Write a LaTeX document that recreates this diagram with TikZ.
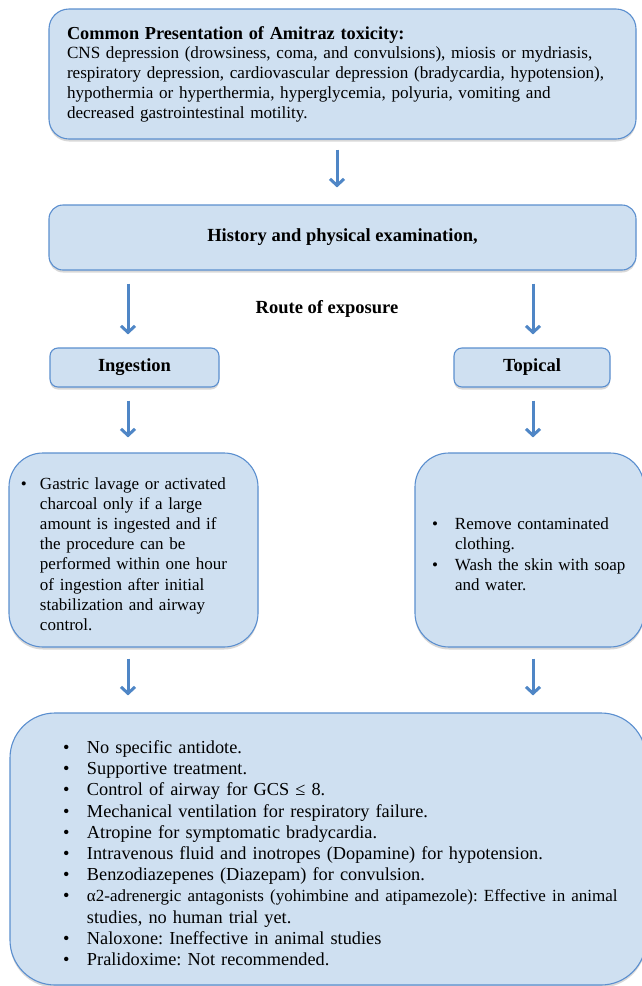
\documentclass[tikz,border=0pt]{standalone}
\usepackage{fontspec}
\setmainfont{Liberation Serif}
\usetikzlibrary{arrows.meta,shadows}
\definecolor{boxfill}{HTML}{CFE0F1}
\definecolor{boxline}{HTML}{5B8FCF}
\definecolor{flowblue}{HTML}{4F86C6}
\newcommand{\bitem}[2]{\par\hangindent=#1\hangafter=1\noindent\makebox[#1][l]{\textbullet}#2\par}
\frenchspacing
\begin{document}
\begin{tikzpicture}[x=1pt,y=-1pt,
	box/.style={draw=boxline,line width=1.1pt,fill=boxfill,rounded corners=#1,
		drop shadow={shadow xshift=0pt,shadow yshift=-2.5pt,opacity=0.3},
		inner xsep=0pt,inner ysep=0pt,align=left},
	box/.default=14pt,
	head/.style={font=\fontsize{18.5}{21}\selectfont\bfseries,align=center},
	flow/.style={draw=flowblue,line width=3pt,-{Straight Barb[length=6.5pt,width=14pt]}}]
		\useasboundingbox (0,0) rectangle (642,986);
		\clip (0,0) rectangle (642,986);
		\fill[white] (0,0) rectangle (642,986);
		\node[box=20pt,text width=587,minimum height=130,font=\fontsize{17.1}{19.8}\selectfont] (present) at (342.5,74) {\leftskip=18pt
			{\fontsize{18.3}{19.8}\selectfont\bfseries Common Presentation of Amitraz toxicity:\par}
			\noindent CNS depression (drowsiness, coma, and convulsions), miosis or mydriasis,\newline
			respiratory depression, cardiovascular depression (bradycardia, hypotension),\newline
			hypothermia or hyperthermia, hyperglycemia, polyuria, vomiting and\newline
			decreased gastrointestinal motility.\par};
		\node[box,head,minimum width=587,minimum height=65] (history) at (342.5,237.5) {History and physical examination,};
		\node[head] (route) at (327,309) {Route of exposure};
		\node[box=8pt,head,minimum width=169,minimum height=39] (ingest) at (134.5,367.5) {Ingestion};
		\node[box=8pt,head,minimum width=156,minimum height=39] (topical) at (532,367.5) {Topical};
		\node[box=34pt,text width=249,minimum height=194,font=\fontsize{17}{20.1}\selectfont] (gastric) at (133.5,550) {\leftskip=12pt
			\bitem{19pt}{Gastric lavage or activated\newline charcoal only if a large\newline amount is ingested and if\newline the procedure can be\newline performed within one hour\newline of ingestion after initial\newline stabilization and airway\newline control.}};
		\node[box=34pt,text width=229,minimum height=194,font=\fontsize{17}{20.2}\selectfont] (wash) at (529.5,550) {\leftskip=17pt
			\bitem{23pt}{Remove contaminated\newline clothing.}
			\bitem{23pt}{Wash the skin with soap\newline and water.}};
		\node[box=45pt,text width=636,minimum height=272,font=\fontsize{18.3}{21.2}\selectfont] (care) at (328,849) {\leftskip=53pt
			\bitem{24pt}{No specific antidote.}
			\bitem{24pt}{Supportive treatment.}
			\bitem{24pt}{Control of airway for GCS ≤ 8.}
			\bitem{24pt}{Mechanical ventilation for respiratory failure.}
			\bitem{24pt}{Atropine for symptomatic bradycardia.}
			\bitem{24pt}{Intravenous fluid and inotropes (Dopamine) for hypotension.}
			\bitem{24pt}{Benzodiazepenes (Diazepam) for convulsion.}
			\bitem{24pt}{{\fontsize{17}{21.2}\selectfont α2-adrenergic antagonists (yohimbine and atipamezole): Effective in animal}\newline studies, no human trial yet.}
			\bitem{24pt}{Naloxone: Ineffective in animal studies}
			\bitem{24pt}{Pralidoxime: Not recommended.}};
		\coordinate (leftlane) at (128,0);
		\coordinate (rightlane) at (533,0);
		\draw[flow,shorten <=10pt,shorten >=17pt] ([xshift=-5.5pt]present.south) -- ([xshift=-5.5pt]history.north);
		\draw[flow,shorten <=13pt,shorten >=13pt] (leftlane |- history.south) -- (leftlane |- ingest.north);
		\draw[flow,shorten <=13pt,shorten >=13pt] (rightlane |- history.south) -- (rightlane |- topical.north);
		\draw[flow,shorten <=13pt,shorten >=15pt] (leftlane |- ingest.south) -- (leftlane |- gastric.north);
		\draw[flow,shorten <=13pt,shorten >=15pt] (rightlane |- topical.south) -- (rightlane |- wash.north);
		\draw[flow,shorten <=11pt,shorten >=17pt] (leftlane |- gastric.south) -- (leftlane |- care.north);
		\draw[flow,shorten <=11pt,shorten >=17pt] (rightlane |- wash.south) -- (rightlane |- care.north);
\end{tikzpicture}
\end{document}
